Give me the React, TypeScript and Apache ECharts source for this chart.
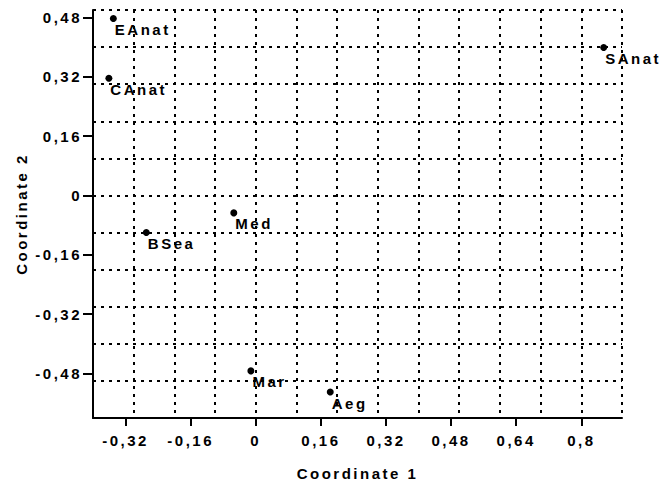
import React, { useEffect, useRef } from 'react';
import * as echarts from 'echarts';

const sites = ['EAnat', 'CAnat', 'SAnat', 'Med', 'BSea', 'Mar', 'Aeg'];
const coord1 = [-0.35, -0.361, 0.855, -0.054, -0.269, -0.012, 0.183];
const coord2 = [0.477, 0.316, 0.399, -0.047, -0.1, -0.473, -0.53];
const xTicks = [-0.32, -0.16, 0, 0.16, 0.32, 0.48, 0.64, 0.8];
const yTicks = [-0.48, -0.32, -0.16, 0, 0.16, 0.32, 0.48];

const FONT = '"Liberation Sans", Arial, Helvetica, sans-serif';
const fmt = (v: number) => String(v).replace('.', ',');

export default function App() {
  const ref = useRef<HTMLDivElement>(null);
  useEffect(() => {
    document.body.style.margin = '0';
    if (!ref.current) return;
    const chart = echarts.init(ref.current, undefined, { renderer: 'svg' });
    const gridLine = { type: [3, 5], width: 2, color: '#000' };
    const gridAxisCommon = {
      type: 'value',
      interval: 0.1,
      axisLine: { show: false },
      axisTick: { show: false },
      axisLabel: { show: false },
      splitLine: { show: true, lineStyle: gridLine },
      z: 0,
    };
    const titleStyle = { fontFamily: FONT, fontWeight: 'bold', fontSize: 15, color: '#000' };
    const labelStyle = { fontFamily: FONT, fontWeight: 'bold', fontSize: 15, color: '#000' };
    chart.setOption({
      animation: false,
      backgroundColor: '#fff',
      grid: { left: 93, right: 38, top: 10, bottom: 65, containLabel: false },
      xAxis: [
        {
          type: 'value',
          min: -0.4,
          max: 0.9,
          name: 'Coordinate 1',
          nameLocation: 'middle',
          nameGap: 48,
          nameTextStyle: titleStyle,
          axisLine: { show: true, onZero: false, lineStyle: { color: '#000', width: 2 } },
          axisTick: { show: true, length: 8, customValues: xTicks, lineStyle: { color: '#000', width: 2 } },
          axisLabel: { customValues: xTicks, formatter: fmt, margin: 15, ...labelStyle },
          splitLine: { show: false },
          z: 2,
        },
        { ...gridAxisCommon, min: -0.4, max: 0.9, position: 'bottom' },
      ],
      yAxis: [
        {
          type: 'value',
          min: -0.6,
          max: 0.5,
          name: 'Coordinate 2',
          nameLocation: 'middle',
          nameGap: 64,
          nameTextStyle: titleStyle,
          axisLine: { show: true, onZero: false, lineStyle: { color: '#000', width: 2 } },
          axisTick: { show: true, length: 10, customValues: yTicks, lineStyle: { color: '#000', width: 2 } },
          axisLabel: { customValues: yTicks, formatter: fmt, margin: 11, ...labelStyle },
          splitLine: { show: false },
          z: 2,
        },
        { ...gridAxisCommon, min: -0.6, max: 0.5, position: 'left' },
      ],
      series: [
        {
          type: 'scatter',
          xAxisIndex: 0,
          yAxisIndex: 0,
          symbol: 'circle',
          symbolSize: 7,
          itemStyle: { color: '#000', opacity: 1 },
          data: sites.map((s, i) => ({ name: s, value: [coord1[i], coord2[i]] })),
          label: {
            show: true,
            formatter: (p: any) => p.name,
            position: [5, 7],
            align: 'left',
            verticalAlign: 'top',
            opacity: 1,
            ...labelStyle,
          },
          z: 3,
        },
      ],
    });
    const space = () => {
      ref.current?.querySelectorAll('text').forEach((t) => {
        (t as SVGTextElement).style.letterSpacing = '2.5px';
      });
    };
    space();
    chart.on('finished', space);
    return () => chart.dispose();
  }, []);
  return <div ref={ref} style={{ width: 660, height: 486 }} />;
}
